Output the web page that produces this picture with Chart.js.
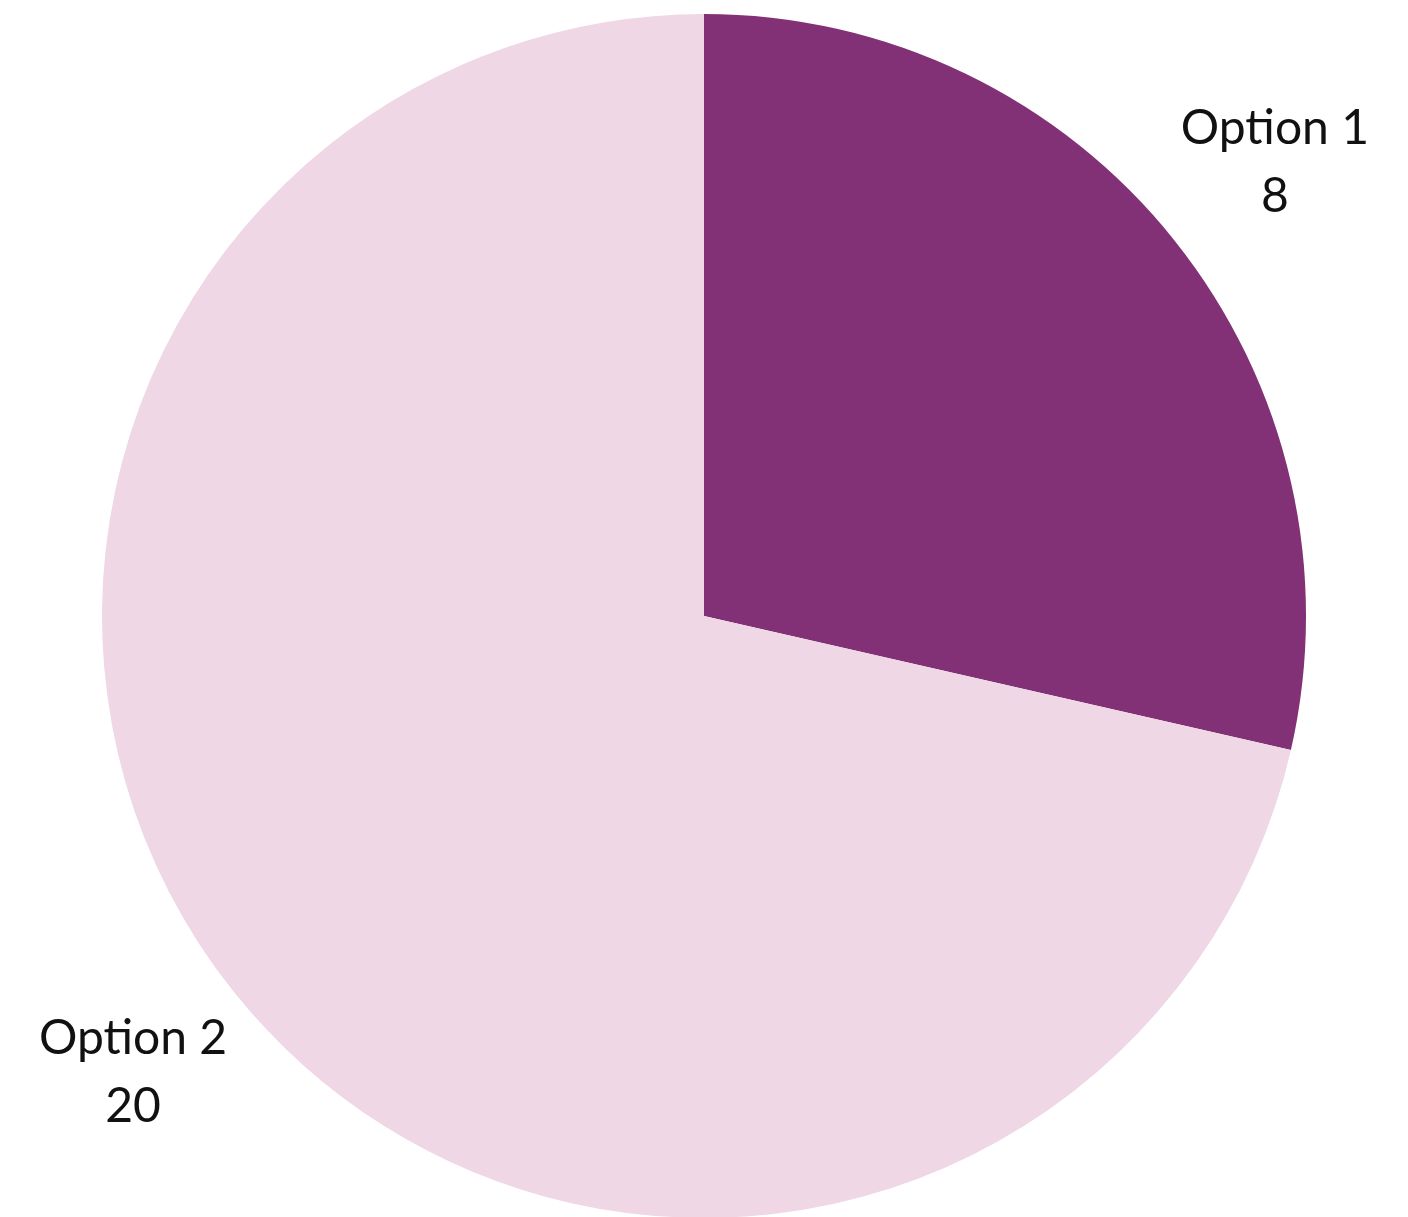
<!DOCTYPE html>
<html>
<head>
<meta charset="utf-8">
<script src="https://cdn.jsdelivr.net/npm/chart.js@4"></script>
<style>
  html, body { margin: 0; padding: 0; background: #fff; overflow: hidden; }
  #wrap { width: 1408px; height: 1234px; }
</style>
</head>
<body>
<div id="wrap"><canvas id="pie"></canvas></div>
<script>
// ── Data ───────────────────────────────────────
const labels = ['Option 1', 'Option 2'];
const values = [8, 20];
const colors = ['#833176', '#EFD7E5'];

// ── Outside labels: name + value along mid angle ──
const outsideLabels = {
  id: 'outsideLabels',
  afterDatasetsDraw(chart) {
    const ctx  = chart.ctx;
    const meta = chart.getDatasetMeta(0);
    ctx.save();
    ctx.fillStyle = '#111';
    ctx.font = '48px Lato, "Open Sans", sans-serif';
    ctx.textAlign = 'center';
    ctx.textBaseline = 'alphabetic';
    meta.data.forEach((arc, i) => {
      const mid = (arc.startAngle + arc.endAngle) / 2;
      const r   = arc.outerRadius * 1.213;
      const x   = arc.x + Math.cos(mid) * r;
      const y   = arc.y + Math.sin(mid) * r;
      ctx.fillText(labels[i], x, y - 17);
      ctx.fillText(String(values[i]), x, y + 51);
    });
    ctx.restore();
  }
};

new Chart(document.getElementById('pie'), {
  type: 'pie',
  data: {
    labels: labels,
    datasets: [{
      data: values,
      backgroundColor: colors,
      borderWidth: 0
    }]
  },
  options: {
    responsive: true,
    maintainAspectRatio: false,
    animation: false,
    layout: { padding: { top: 14, bottom: 16 } },
    plugins: {
      legend: { display: false },
      tooltip: { enabled: false }
    }
  },
  plugins: [outsideLabels]
});
</script>
</body>
</html>
